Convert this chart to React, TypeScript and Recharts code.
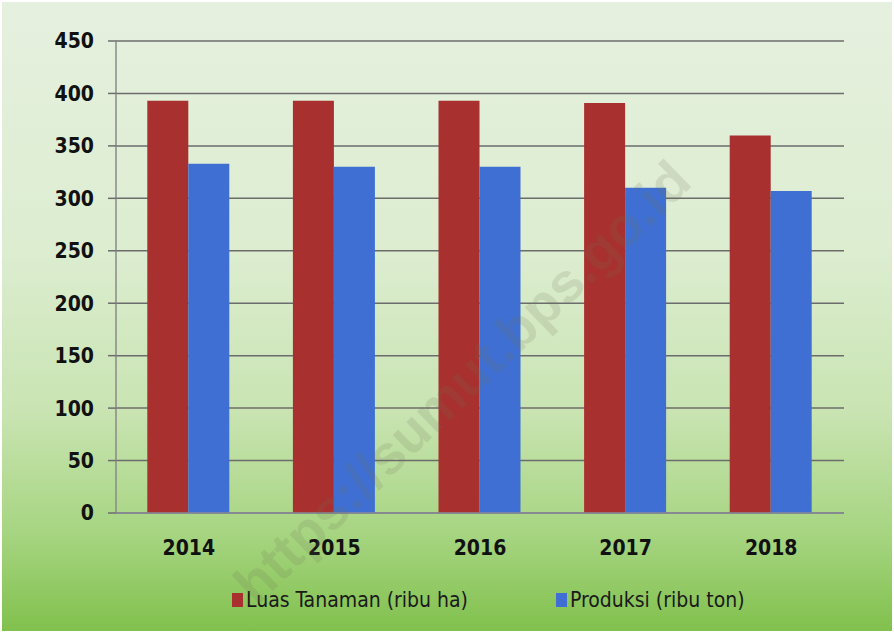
import React from 'react';
import { BarChart, Bar, XAxis, YAxis, CartesianGrid, Legend } from 'recharts';

const YEARS = ['2014', '2015', '2016', '2017', '2018'];
const LUAS_TANAMAN = [393, 393, 393, 391, 360];
const PRODUKSI = [333, 330, 330, 310, 307];
const Y_TICKS = [0, 50, 100, 150, 200, 250, 300, 350, 400, 450];

const RED = '#A8302F';
const BLUE = '#3F6FD2';
const FONT = '"Liberation Sans Narrow", "DejaVu Sans Condensed", Arial, sans-serif';

const data = YEARS.map((year, i) => ({
  name: year,
  luas: LUAS_TANAMAN[i],
  produksi: PRODUKSI[i],
}));

const renderLegend = (props: any) => {
  const { payload } = props;
  return (
    <div style={{ display: 'flex', justifyContent: 'flex-start', alignItems: 'center', height: 40, gap: 88, paddingLeft: 232 }}>
      {payload.map((item: any) => (
        <div key={item.value} style={{ display: 'flex', alignItems: 'center' }}>
          <span style={{ display: 'inline-block', width: 11, height: 14, background: item.color, marginRight: 3 }} />
          <span style={{ fontFamily: FONT, fontSize: 21, color: '#1a1a1a' }}>{item.value}</span>
        </div>
      ))}
    </div>
  );
};

export default function App() {
  return (
    <div
      style={{
        position: 'absolute',
        left: 0,
        top: 0,
        width: 894,
        height: 633,
        overflow: 'hidden',
        background: 'linear-gradient(180deg, #e6f0df 0%, #dcedd0 40%, #c9e4b2 65%, #a5d47f 85%, #80c04c 100%)',
        boxShadow: 'inset 0 0 0 2px #ffffff',
      }}
    >
      <BarChart
        width={894}
        height={633}
        data={data}
        margin={{ top: 41, right: 50, left: 0, bottom: 13 }}
        barCategoryGap="21.5%"
        barGap={0}
      >
        <CartesianGrid vertical={false} stroke="#6c6c6c" strokeWidth={1.5} />
        <XAxis
          dataKey="name"
          height={67}
          axisLine={{ stroke: '#8a8a9a', strokeWidth: 1.5 }}
          tickLine={false}
          tickSize={0}
          tickMargin={27}
          tick={{ fill: '#111', fontSize: 21, fontFamily: FONT, fontWeight: 700 }}
        />
        <YAxis
          width={116}
          domain={[0, 450]}
          ticks={Y_TICKS}
          interval={0}
          axisLine={{ stroke: '#8a8a8a', strokeWidth: 1.5 }}
          tickLine={{ stroke: '#6c6c6c', strokeWidth: 1.5 }}
          tickSize={8}
          tickMargin={14}
          tick={{ fill: '#111', fontSize: 21, fontFamily: FONT, fontWeight: 700 }}
        />
        <Legend height={40} verticalAlign="bottom" content={renderLegend} />
        <Bar dataKey="luas" name="Luas Tanaman (ribu ha)" fill={RED} isAnimationActive={false} />
        <Bar dataKey="produksi" name="Produksi (ribu ton)" fill={BLUE} isAnimationActive={false} />
      </BarChart>
      <div
        style={{
          position: 'absolute',
          left: 462,
          top: 382,
          transform: 'translate(-50%, -50%) rotate(-44deg)',
          fontFamily: 'Arial, sans-serif',
          fontWeight: 700,
          fontSize: 55,
          color: 'rgba(110, 110, 90, 0.16)',
          whiteSpace: 'nowrap',
          pointerEvents: 'none',
        }}
      >
        https://sumut.bps.go.id
      </div>
    </div>
  );
}
